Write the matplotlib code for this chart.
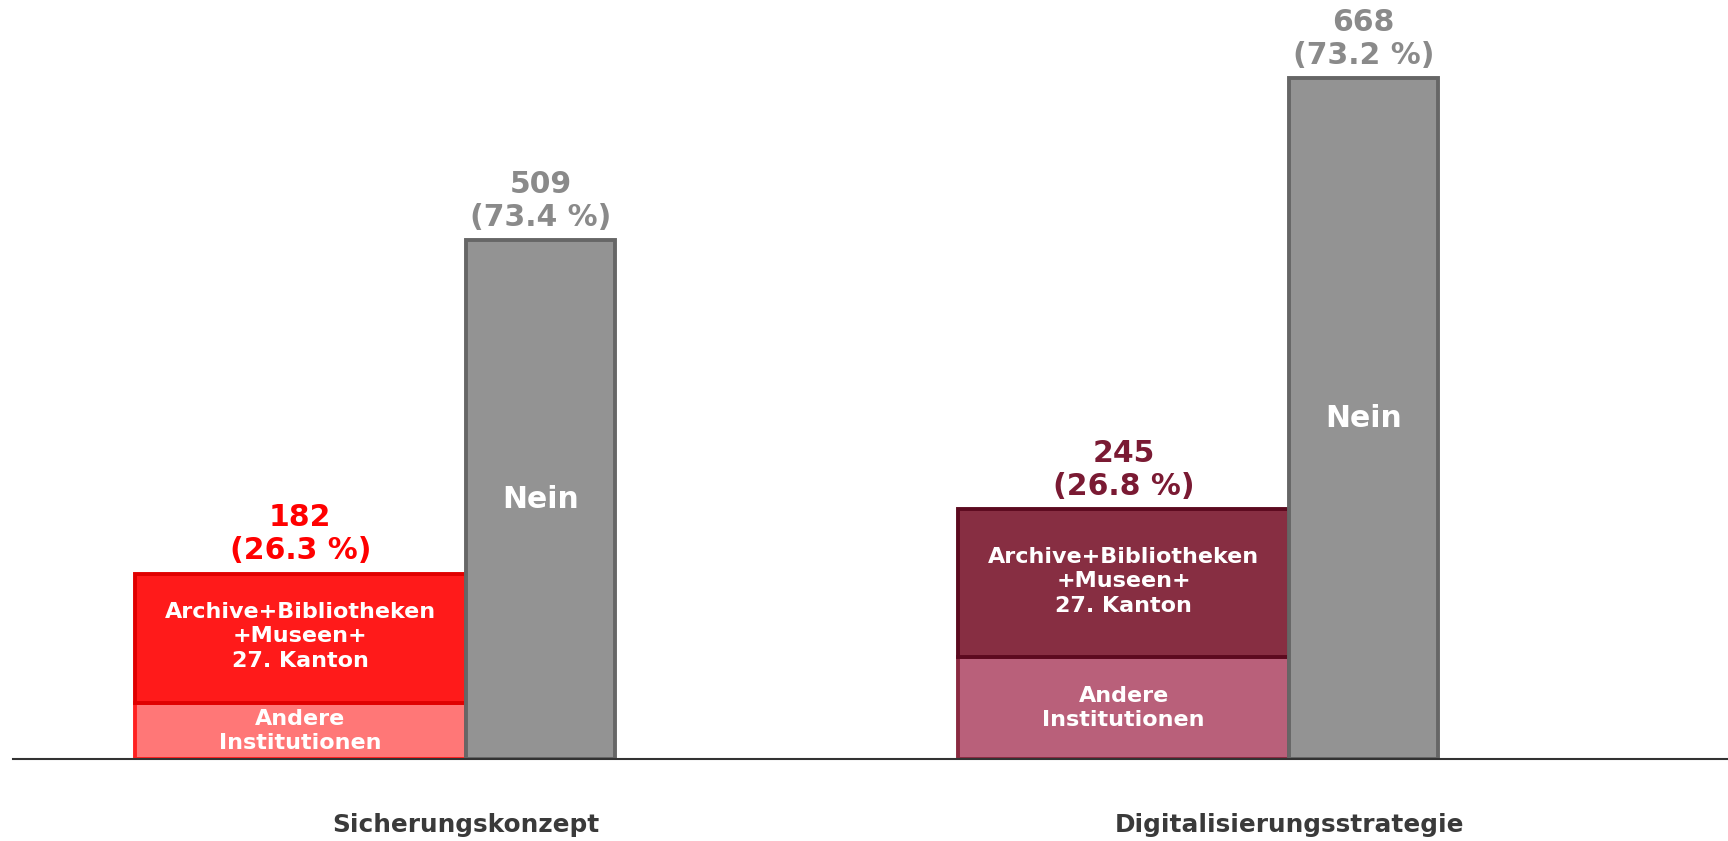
import matplotlib.pyplot as plt
import numpy as np

# data
categories = ["Sicherungskonzept", "Digitalisierungsstrategie"]
ja_total = [182, 245]
ja_pct = [26.3, 26.8]
nein_total = [509, 668]
nein_pct = [73.4, 73.2]
andere = [55, 100]          # "Andere Institutionen" part of the Ja bar
abm = [127, 145]            # Archive+Bibliotheken+Museen+27. Kanton part

# colours per group
main_col = ["#ff1a1a", "#872e42"]
main_edge = ["#e00000", "#5c0a1f"]
light_col = ["#ff7777", "#b9607a"]
light_edge = ["#ff2020", "#8a2a40"]
label_col = ["#ff0000", "#7a1a33"]
grey = "#939393"
grey_edge = "#666666"
grey_txt = "#8a8a8a"

fig = plt.figure(figsize=(17.28, 8.41), dpi=100)
ax = fig.add_axes([13 / 1728, (841 - 759) / 841, 1 - 13 / 1728, 759 / 841])

x = np.arange(len(categories))
w_ja = 0.402
w_nein = 0.181
lw = 2.8

for i in range(len(categories)):
    ax.bar(x[i], andere[i], width=-w_ja, align="edge", color=light_col[i],
           edgecolor=light_edge[i], linewidth=lw)
    ax.bar(x[i], abm[i], bottom=andere[i], width=-w_ja, align="edge",
           color=main_col[i], edgecolor=main_edge[i], linewidth=lw)
    ax.bar(x[i], nein_total[i], width=w_nein, align="edge", color=grey,
           edgecolor=grey_edge, linewidth=lw)

    cx_ja = x[i] - w_ja / 2
    cx_nein = x[i] + w_nein / 2
    ax.text(cx_ja, andere[i] / 2, "Andere\nInstitutionen", ha="center", va="center",
            color="white", fontsize=16, fontweight="bold", linespacing=1.27)
    ax.text(cx_ja, andere[i] + abm[i] / 2 + 2, "Archive+Bibliotheken\n+Museen+\n27. Kanton",
            ha="center", va="center", color="white", fontsize=16, fontweight="bold",
            linespacing=1.27)
    ax.text(cx_nein, nein_total[i] / 2, "Nein", ha="center", va="center",
            color="white", fontsize=21.5, fontweight="bold")

    ax.annotate(f"{ja_total[i]}\n({ja_pct[i]:.1f} %)", (cx_ja, ja_total[i]),
                xytext=(0, 6), textcoords="offset points", ha="center", va="bottom",
                color=label_col[i], fontsize=21.5, fontweight="bold", linespacing=1.18)
    ax.annotate(f"{nein_total[i]}\n({nein_pct[i]:.1f} %)", (cx_nein, nein_total[i]),
                xytext=(0, 6), textcoords="offset points", ha="center", va="bottom",
                color=grey_txt, fontsize=21.5, fontweight="bold", linespacing=1.18)

    ax.text(x[i], -0.087, categories[i], transform=ax.get_xaxis_transform(),
            ha="center", va="center", color="#3a3a3a", fontsize=17.8, fontweight="bold")

ax.set_xlim(-0.550, 1.533)
ax.set_ylim(0, 745)
for s in ["top", "right", "left"]:
    ax.spines[s].set_visible(False)
ax.spines["bottom"].set_color("#333333")
ax.spines["bottom"].set_linewidth(1.5)
ax.set_xticks([])
ax.set_yticks([])
ax.patch.set_alpha(0)

fig.savefig("out.png", dpi=100)
